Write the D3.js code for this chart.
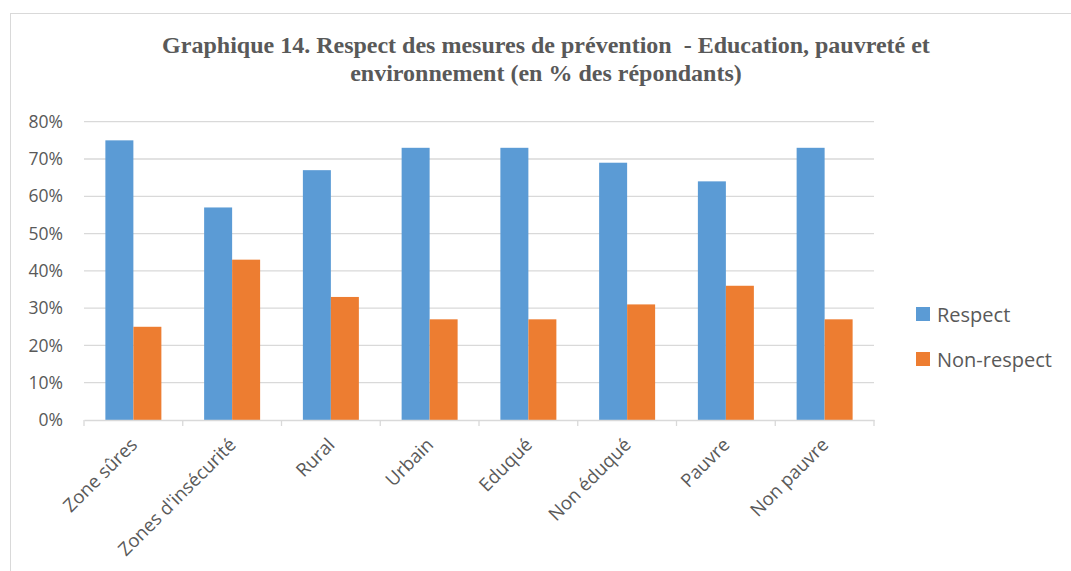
<!DOCTYPE html>
<html><head><meta charset="utf-8">
<script src="https://cdn.jsdelivr.net/npm/d3@7"></script>
<style>body{margin:0;background:#fff;}svg{display:block;}</style>
</head><body>
<svg id="c" width="1071" height="571"></svg>
<script>
const categories = ["Zone sûres","Zones d'insécurité","Rural","Urbain","Eduqué","Non éduqué","Pauvre","Non pauvre"];
const seriesNames = ["Respect","Non-respect"];
const respect = [75,57,67,73,73,69,64,73];
const nonRespect = [25,43,33,27,27,31,36,27];
const yTicks = [0,10,20,30,40,50,60,70,80];
const colors = ["#5b9bd5","#ed7d31"];
const titleLines = ["Graphique 14. Respect des mesures de prévention  - Education, pauvreté et","environnement (en % des répondants)"];

const svg = d3.select("#c");
// outer frame
svg.append("rect").attr("x",10.5).attr("y",13.5).attr("width",1070).attr("height",570)
  .attr("fill","none").attr("stroke","#d9d9d9").attr("stroke-width",1);

const L=84, R=874, T=121.7, B=420;
const x0 = d3.scaleBand().domain(categories).range([L,R]).paddingInner(0.433).paddingOuter(0.2165);
const x1 = d3.scaleBand().domain(seriesNames).range([0,x0.bandwidth()]);
const y = d3.scaleLinear().domain([0,80]).range([B,T]);

// gridlines
svg.append("g").selectAll("line").data(yTicks.filter(d=>d>0)).join("line")
  .attr("x1",L).attr("x2",R).attr("y1",d=>y(d)).attr("y2",d=>y(d))
  .attr("stroke","#d9d9d9").attr("stroke-width",1.3);

// y axis labels
const yAxis = d3.axisLeft(y).tickValues(yTicks).tickFormat(d=>d+"%").tickSize(0).tickPadding(21);
const ya = svg.append("g").attr("transform",`translate(${L},0)`).call(yAxis);
ya.select(".domain").remove();
ya.selectAll("text").attr("fill","#595959").style("font-family","'Open Sans',sans-serif").style("font-size","17.5px");

// bars
const data = categories.map((c,i)=>({c, vals:[respect[i],nonRespect[i]]}));
const g = svg.append("g");
g.selectAll("g").data(data).join("g").attr("transform",d=>`translate(${x0(d.c)},0)`)
  .selectAll("rect").data(d=>d.vals.map((v,j)=>({s:seriesNames[j],v,j}))).join("rect")
  .attr("x",d=>x1(d.s)).attr("width",x1.bandwidth())
  .attr("y",d=>y(d.v)).attr("height",d=>B-y(d.v))
  .attr("fill",d=>colors[d.j]);

// x axis
const xAxis = d3.axisBottom(x0).tickSize(0).tickPadding(0);
const xa = svg.append("g").attr("transform",`translate(0,${B})`).call(xAxis);
xa.select(".domain").attr("stroke","#d9d9d9").attr("stroke-width",1.3);
xa.selectAll("line").remove();
// category boundary ticks
const bounds = d3.range(categories.length+1).map(i=>L+i*x0.step());
svg.append("g").selectAll("line").data(bounds).join("line")
  .attr("x1",d=>d).attr("x2",d=>d).attr("y1",B).attr("y2",B+6)
  .attr("stroke","#d9d9d9").attr("stroke-width",1.3);
xa.selectAll("text")
  .attr("fill","#595959").style("font-family","'Open Sans',sans-serif").style("font-size","18.5px")
  .attr("text-anchor","end").attr("dy","0")
  .attr("transform","translate(5,26) rotate(-45)")
  .attr("x",0).attr("y",0);

// title
const title = svg.append("text").attr("text-anchor","middle")
  .style("font-family","'Liberation Serif','Times New Roman',serif").style("font-weight","bold")
  .style("font-size","24px").style("white-space","pre").attr("fill","#595959");
title.selectAll("tspan").data(titleLines).join("tspan")
  .attr("x",546).attr("y",(d,i)=>53+i*28).text(d=>d);

// legend
const lg = svg.append("g").selectAll("g").data(seriesNames).join("g")
  .attr("transform",(d,i)=>`translate(916,${307+i*45})`);
lg.append("rect").attr("width",14).attr("height",14).attr("fill",(d,i)=>colors[i]);
lg.append("text").attr("x",21).attr("y",14.5).text(d=>d).attr("fill","#595959")
  .style("font-family","'Open Sans',sans-serif").style("font-size","20px");
</script>
</body></html>
